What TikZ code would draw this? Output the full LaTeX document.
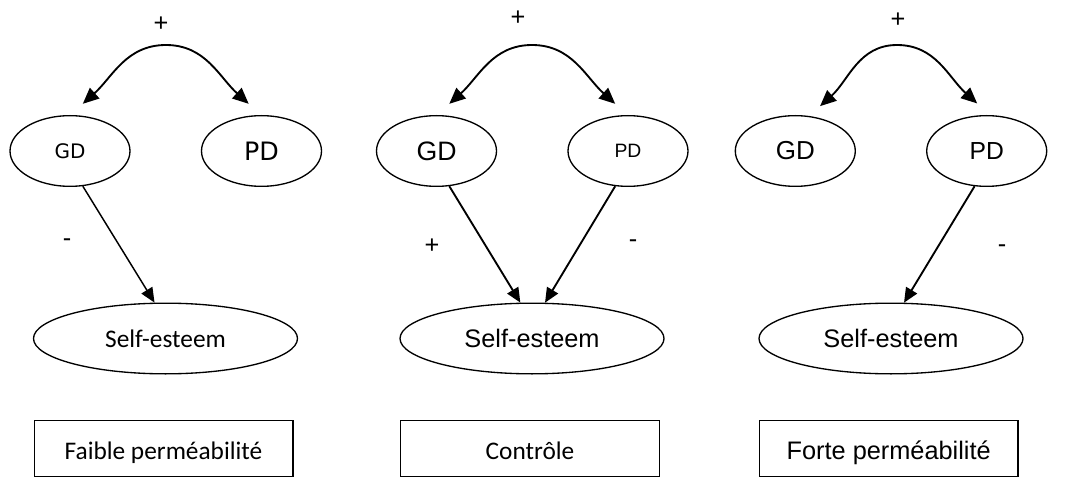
\documentclass[tikz,border=0pt]{standalone}
\usepackage{fontspec}
\setmainfont{Liberation Sans}
\newfontfamily\calibri{Carlito}
\newfontfamily\dejavu{DejaVu Sans}
\usetikzlibrary{shapes.geometric, arrows.meta}

\begin{document}
\begin{tikzpicture}[x=0.75pt, y=0.75pt, line join=miter,
	oval/.style={draw, ellipse, line width=1pt, minimum width=90pt, minimum height=53pt, inner sep=0pt},
	big/.style={oval, minimum width=198pt},
	box/.style={draw, line width=1pt, minimum width=194pt, minimum height=42pt, inner sep=0pt, text height=17pt, text depth=0pt},
	link/.style={line width=1.4pt, -{Triangle[length=11pt, width=9.5pt]}},
	twoway/.style={line width=1.4pt, {Triangle[length=12pt, width=10.5pt]}-{Triangle[length=12pt, width=10.5pt]}},
	sign/.style={anchor=base, inner sep=0pt, font=\fontsize{19}{23}\selectfont}]
	
	\useasboundingbox (0, 0) rectangle (1077, -477);
	
	% Faible perméabilité
	\node[oval, font=\dejavu\fontsize{15}{18}\selectfont] (gd1) at (70, -151) {GD};
	\node[oval, font=\dejavu\fontsize{19}{23}\selectfont] (pd1) at (261.5, -151) {PD};
	\node[big, font=\calibri\fontsize{19}{23}\selectfont] (se1) at (165.5, -338.5) {Self-esteem};
	\node[box, font=\calibri\fontsize{19}{23}\selectfont] (cond1) at (163.5, -448.3) {Faible perméabilité};
	\coordinate (top1) at (166, -45);
	\node[sign] (plus1) at (161, -32) {+};
	\node[sign] (minus1) at (67, -247) {-};
	\draw[twoway] ([yshift=9pt]gd1.70) to[out=42, in=180] (top1) to[out=0, in=138] ([yshift=9pt]pd1.110);
	\draw[link, line width=1.1pt] (gd1.-70) -- (se1.107);
	
	% Contrôle
	\node[oval, font=\fontsize{20}{24}\selectfont] (gd2) at (436.5, -151) {GD};
	\node[oval, font=\fontsize{14.5}{17}\selectfont] (pd2) at (628, -151) {PD};
	\node[big, font=\fontsize{19}{23}\selectfont] (se2) at (532, -338.5) {Self-esteem};
	\node[box, font=\calibri\fontsize{19}{23}\selectfont] (cond2) at (530, -448.3) {Contrôle};
	\coordinate (top2) at (532, -45);
	\node[sign] (plus2) at (518, -26) {+};
	\node[sign] (plus3) at (432, -253) {+};
	\node[sign] (minus2) at (633, -247.7) {-};
	\draw[twoway] ([yshift=9pt]gd2.70) to[out=42, in=180] (top2) to[out=0, in=138] ([yshift=9pt]pd2.110);
	\draw[link] (gd2.-70) -- (se2.108);
	\draw[link] (pd2.-110) -- (se2.70);
	
	% Forte perméabilité
	\node[oval, font=\fontsize{19.5}{23}\selectfont] (gd3) at (795.3, -151) {GD};
	\node[oval, font=\fontsize{18.5}{22}\selectfont] (pd3) at (986.7, -151) {PD};
	\node[big, font=\fontsize{19}{23}\selectfont] (se3) at (891, -338.5) {Self-esteem};
	\node[box, font=\fontsize{19}{23}\selectfont] (cond3) at (888.7, -448.3) {Forte perméabilité};
	\coordinate (top3) at (897, -45);
	\node[sign] (plus4) at (898, -28) {+};
	\node[sign] (minus3) at (1002, -252.7) {-};
	\draw[twoway] ([yshift=9pt]gd3.53) to[out=42, in=180] (top3) to[out=0, in=138] ([yshift=9pt]pd3.105);
	\draw[link] (pd3.-109) -- (se3.70);
	
\end{tikzpicture}
\end{document}
